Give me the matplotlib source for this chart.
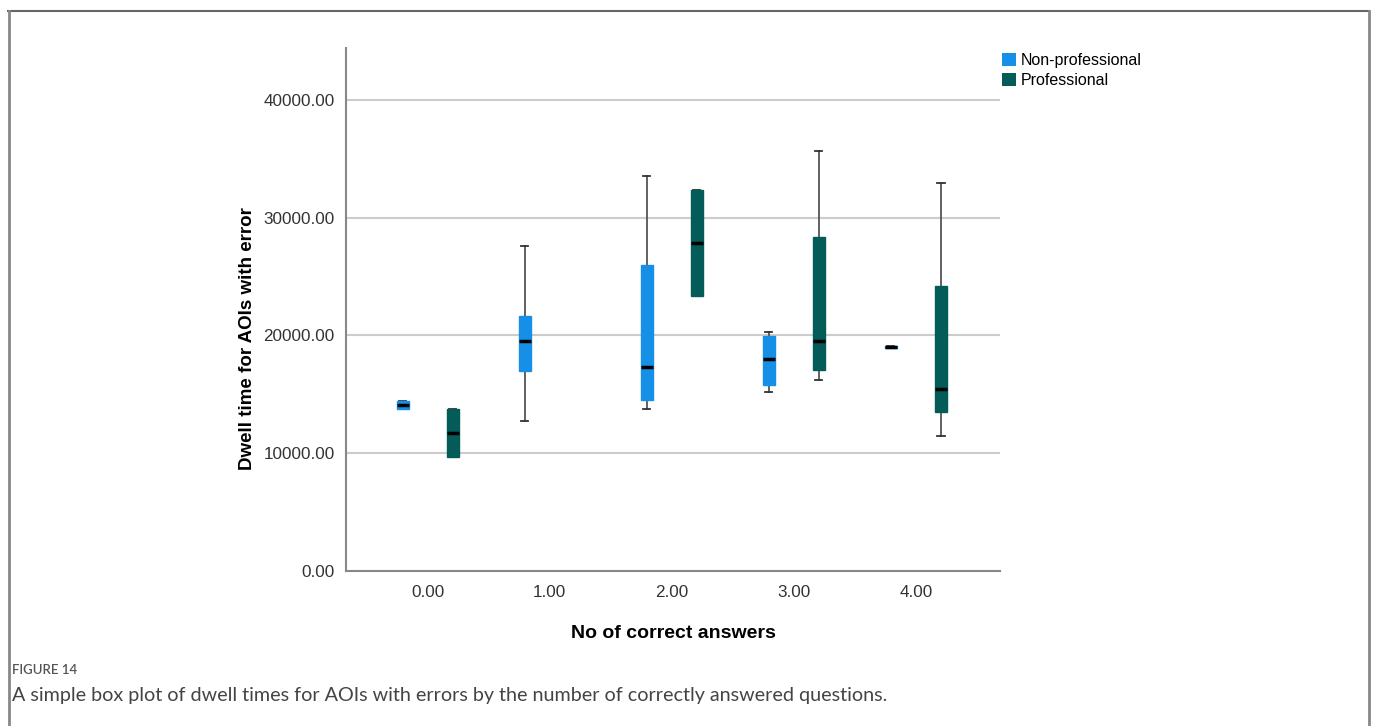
import matplotlib
matplotlib.use("Agg")
import matplotlib.pyplot as plt
from matplotlib.patches import Patch
from matplotlib.lines import Line2D

plt.rcParams['font.family'] = ['Liberation Sans', 'DejaVu Sans']

# box statistics per group: (whisker low, q1, median, q3, whisker high)
answers = [0, 1, 2, 3, 4]
tick_labels = ["0.00", "1.00", "2.00", "3.00", "4.00"]

nonpro_groups = [0, 1, 2, 3, 4]
nonpro_low = [13750, 12770, 13730, 15180, 18900]
nonpro_q1 = [13750, 17010, 14520, 15770, 18900]
nonpro_med = [14100, 19560, 17300, 17980, 19000]
nonpro_q3 = [14450, 21660, 25990, 19960, 19100]
nonpro_high = [14450, 27600, 33550, 20270, 19100]

pro_groups = [0, 2, 3, 4]
pro_low = [9700, 23350, 16250, 11490]
pro_q1 = [9700, 23350, 17070, 13480]
pro_med = [11750, 27880, 19530, 15460]
pro_q3 = [13760, 32360, 28390, 24200]
pro_high = [13760, 32360, 35670, 32980]

blue = "#1590e6"
teal = "#035c58"


def make_stats(low, q1, med, q3, high):
    return [dict(whislo=a, q1=b, med=c, q3=d, whishi=e, fliers=[])
            for a, b, c, d, e in zip(low, q1, med, q3, high)]


fig = plt.figure(figsize=(13.75, 7.26), dpi=100)
ax = fig.add_axes([0.2516, 0.2135, 0.4757, 0.7204])

offset = 0.205
for groups, stats, color in [
    (nonpro_groups, make_stats(nonpro_low, nonpro_q1, nonpro_med, nonpro_q3, nonpro_high), blue),
    (pro_groups, make_stats(pro_low, pro_q1, pro_med, pro_q3, pro_high), teal),
]:
    shift = -offset if color == blue else offset
    ax.bxp(stats, positions=[g + shift for g in groups], widths=0.1,
           patch_artist=True, showfliers=False, manage_ticks=False,
           boxprops=dict(facecolor=color, edgecolor=color, linewidth=1, zorder=3),
           medianprops=dict(color="black", linewidth=2.5, zorder=4),
           whiskerprops=dict(color="#555555", linewidth=1.3, zorder=2),
           capprops=dict(color="#333333", linewidth=1.3, zorder=2),
           capwidths=0.06)

ax.set_xlim(-0.67, 4.69)
ax.set_ylim(0, 44400)
ax.set_yticks([0, 10000, 20000, 30000, 40000])
ax.set_yticklabels(["0.00", "10000.00", "20000.00", "30000.00", "40000.00"])
ax.set_xticks(answers)
ax.set_xticklabels(tick_labels)
ax.tick_params(length=0, labelsize=12.3, labelcolor="#333333")
ax.tick_params(axis="y", pad=8)
ax.tick_params(axis="x", pad=10)
for y in [10000, 20000, 30000, 40000]:
    ax.axhline(y, color="#cccccc", linewidth=1.5, zorder=1)
for s in ["top", "right"]:
    ax.spines[s].set_visible(False)
for s in ["left", "bottom"]:
    ax.spines[s].set_color("#888888")
    ax.spines[s].set_linewidth(1.5)

ax.set_xlabel("No of correct answers", fontsize=14, fontweight="bold", labelpad=18)
fig.text(247 / 1375, 1 - 339 / 726, "Dwell time for AOIs with error", rotation=90,
         ha="center", va="center", fontsize=13.5, fontweight="bold")

handles = [Patch(facecolor=blue, label="Non-professional"),
           Patch(facecolor=teal, label="Professional")]
fig.legend(handles=handles, loc="upper left", bbox_to_anchor=(996 / 1375, 1 - 47 / 726),
           frameon=False, fontsize=11.5, handlelength=0.85, handleheight=0.85,
           handletextpad=0.3, labelspacing=0.3, borderaxespad=0)

# outer frame
fig.add_artist(Line2D([8 / 1375, 1369 / 1375], [1 - 11 / 726, 1 - 11 / 726],
                      transform=fig.transFigure, color="#666666", linewidth=1.5))
fig.add_artist(Line2D([9 / 1375, 9 / 1375], [0, 1 - 11 / 726],
                      transform=fig.transFigure, color="#888888", linewidth=2))
fig.add_artist(Line2D([1369 / 1375, 1369 / 1375], [0, 1 - 11 / 726],
                      transform=fig.transFigure, color="#888888", linewidth=2))

fig.text(12 / 1375, 1 - 670 / 726, "FIGURE 14", fontsize=9.5, color="#555555",
         family=["Lato", "DejaVu Sans"], fontweight="semibold", va="center")
fig.text(12 / 1375, 1 - 695 / 726,
         "A simple box plot of dwell times for AOIs with errors by the number of correctly answered questions.",
         fontsize=14.2, color="#444444", family=["Lato", "DejaVu Sans"], va="center")

fig.savefig("out.png", dpi=100)
